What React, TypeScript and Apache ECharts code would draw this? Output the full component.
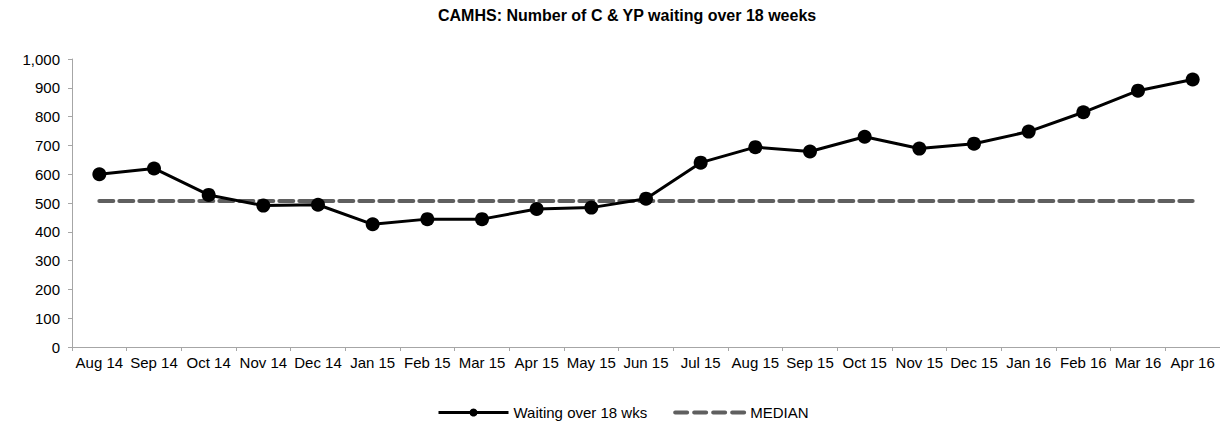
import React, { useEffect, useRef } from "react";
import * as echarts from "echarts";

const categories = [
  "Aug 14", "Sep 14", "Oct 14", "Nov 14", "Dec 14", "Jan 15", "Feb 15",
  "Mar 15", "Apr 15", "May 15", "Jun 15", "Jul 15", "Aug 15", "Sep 15",
  "Oct 15", "Nov 15", "Dec 15", "Jan 16", "Feb 16", "Mar 16", "Apr 16",
];
const waiting = [
  600, 620, 528, 491, 494, 426, 444, 444, 479, 484, 515, 640, 694, 679,
  730, 689, 706, 748, 815, 890, 929,
];
const medianValue = 507;
const median = categories.map(() => medianValue);

const TITLE = "CAMHS: Number of C & YP waiting over 18 weeks";
const FONT = "'Liberation Sans', Arial, sans-serif";

export default function App() {
  const ref = useRef<HTMLDivElement>(null);
  useEffect(() => {
    if (!ref.current) return;
    const chart = echarts.init(ref.current, undefined, { renderer: "svg" });
    chart.setOption({
      animation: false,
      backgroundColor: "#fff",
      textStyle: { fontFamily: FONT },
      title: {
        text: TITLE,
        left: 433,
        top: 2,
        textStyle: { fontFamily: FONT, fontSize: 16, fontWeight: "bold", color: "#000" },
      },
      legend: {
        left: 432,
        top: 400,
        itemWidth: 70,
        itemHeight: 10,
        itemGap: 26,
        textStyle: { fontFamily: FONT, fontSize: 15, color: "#000" },
        data: [
          { name: "Waiting over 18 wks", lineStyle: { width: 3, color: "#000" } },
          {
            name: "MEDIAN",
            itemStyle: { color: "rgba(0,0,0,0)", borderWidth: 0, opacity: 0 },
            lineStyle: { width: 4, color: "#5f5f5f", type: [12, 7], cap: "round" },
          },
        ],
      },
      grid: { left: 72, top: 59, width: 1150, height: 288, containLabel: false },
      xAxis: {
        type: "category",
        data: categories,
        boundaryGap: true,
        axisLine: { lineStyle: { color: "#a6a6a6", width: 1 } },
        axisTick: { show: true, length: 4, alignWithLabel: false, lineStyle: { color: "#a6a6a6" } },
        axisLabel: { interval: 0, margin: 8, fontFamily: FONT, fontSize: 15, color: "#000" },
        splitLine: { show: false },
      },
      yAxis: {
        type: "value",
        min: 0,
        max: 1000,
        interval: 100,
        axisLine: { show: true, lineStyle: { color: "#a6a6a6", width: 1 } },
        axisTick: { show: true, length: 4, lineStyle: { color: "#a6a6a6" } },
        axisLabel: {
          margin: 12,
          fontFamily: FONT,
          fontSize: 15,
          color: "#000",
          formatter: (v: number) => v.toLocaleString("en-US"),
        },
        splitLine: { show: false },
      },
      series: [
        {
          name: "MEDIAN",
          type: "line",
          data: median,
          symbol: "none",
          lineStyle: { color: "#5f5f5f", width: 4, type: [14, 6], cap: "round" },
          itemStyle: { color: "#5f5f5f" },
          z: 1,
        },
        {
          name: "Waiting over 18 wks",
          type: "line",
          data: waiting,
          symbol: "circle",
          symbolSize: 14,
          lineStyle: { color: "#000", width: 3 },
          itemStyle: { color: "#000" },
          z: 2,
        },
      ],
    });
    return () => chart.dispose();
  }, []);
  return (
    <div
      ref={ref}
      style={{ position: "fixed", left: 0, top: 0, width: 1220, height: 423, background: "#fff" }}
    />
  );
}
